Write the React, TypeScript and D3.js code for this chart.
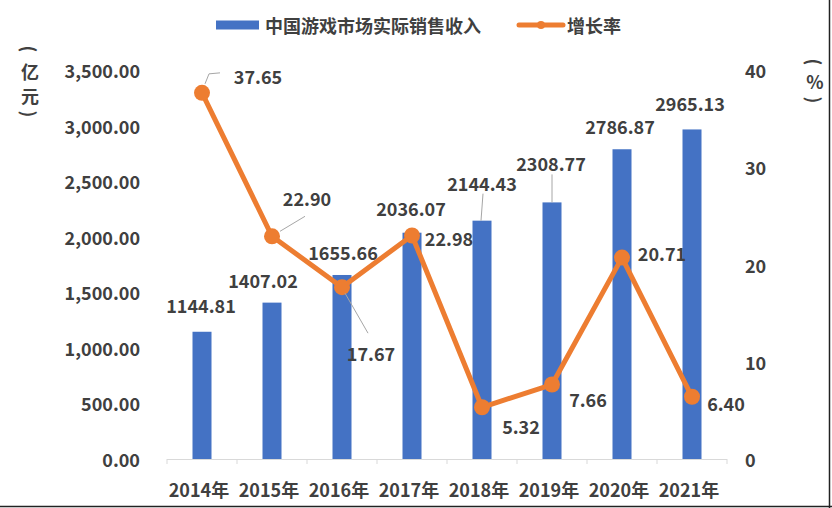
import React from 'react';
import * as d3 from 'd3';

const years = ['2014年', '2015年', '2016年', '2017年', '2018年', '2019年', '2020年', '2021年'];
const revenue = [1144.81, 1407.02, 1655.66, 2036.07, 2144.43, 2308.77, 2786.87, 2965.13];
const growth = [37.65, 22.90, 17.67, 22.98, 5.32, 7.66, 20.71, 6.40];
const leftTicks = [0, 500, 1000, 1500, 2000, 2500, 3000, 3500];
const rightTicks = [0, 10, 20, 30, 40];
const legendBar = '中国游戏市场实际销售收入';
const legendLine = '增长率';
const leftTitle = ['(', '亿', '元', ')'];
const rightTitle = ['(', '%', ')'];

// label placement (px offsets)
const revLabelOff = [[-1, -27], [-9, -23], [1, -23], [-1, -25], [0, -38], [-1, -39], [-2, -23], [-2, -26]];
const revLeader = [false, false, false, false, true, true, false, false];
const grLabelOff = [[56, -17], [35, -38], [29, 66], [37, 2], [39, 19], [36, 14], [40, -5], [34, 6]];

const W = 832, H = 508;
const L = 167, R = 727, B = 459, T = 70;
const BLUE = '#4472C4';
const ORANGE = '#ED7D31';
const TXT = '#404040';
const FONT = '"Noto Sans CJK SC", "Noto Sans", sans-serif';

function VChar({ c, x, y }: { c: string; x: number; y: number }) {
  const paren = c === '(' || c === ')';
  return (
    <text x={x} y={y} fontSize={18} fontWeight={700} fill={TXT} textAnchor="middle" dominantBaseline="central"
      transform={paren ? `rotate(90 ${x} ${y})` : undefined}>{c}</text>
  );
}

export default function App() {
  const x = d3.scaleBand<string>().domain(years).range([L, R]).paddingInner(0).paddingOuter(0);
  const yL = d3.scaleLinear().domain([0, 3500]).range([B, T]);
  const yR = d3.scaleLinear().domain([0, 40]).range([B, T]);
  const cx = (i: number) => (x(years[i]) as number) + x.bandwidth() / 2;
  const barW = 19;
  const line = d3.line<number>().x((_, i) => cx(i)).y((d) => yR(d));
  const bounds = d3.range(years.length + 1).map((i) => L + i * x.bandwidth());

  const fs = 18;
  return (
    <svg width={W} height={H} style={{ position: 'absolute', left: 0, top: 0, background: '#fff' }}
      fontFamily={FONT}>
      <rect x={0} y={0} width={W} height={H} fill="#fff" />
      {/* legend */}
      <rect x={216} y={20.5} width={43} height={9} fill={BLUE} />
      <text x={265} y={25} fontSize={fs} fontWeight={700} fill={TXT} dominantBaseline="central">{legendBar}</text>
      <line x1={519} x2={563} y1={25} y2={25} stroke={ORANGE} strokeWidth={5} strokeLinecap="round" />
      <circle cx={541} cy={25} r={4} fill={ORANGE} />
      <text x={567} y={25} fontSize={fs} fontWeight={700} fill={TXT} dominantBaseline="central">{legendLine}</text>

      {/* axis titles */}
      {leftTitle.map((c, i) => (
        <VChar key={'lt' + i} c={c} x={30} y={[49, 71, 95, 114][i]} />
      ))}
      {rightTitle.map((c, i) => (
        <VChar key={'rt' + i} c={c} x={815} y={[62, 81, 100][i]} />
      ))}

      {/* left ticks */}
      {leftTicks.map((t) => (
        <text key={'l' + t} x={140} y={yL(t)} fontSize={fs} fontWeight={700} fill={TXT}
          textAnchor="end" dominantBaseline="central">{d3.format(',.2f')(t)}</text>
      ))}
      {/* right ticks */}
      {rightTicks.map((t) => (
        <text key={'r' + t} x={745} y={yR(t)} fontSize={fs} fontWeight={700} fill={TXT}
          textAnchor="start" dominantBaseline="central">{t}</text>
      ))}

      {/* bars */}
      {revenue.map((v, i) => (
        <rect key={'b' + i} x={cx(i) - barW / 2} y={yL(v)} width={barW} height={B - yL(v)} fill={BLUE} />
      ))}

      {/* x axis */}
      <line x1={L} x2={R} y1={B + 0.5} y2={B + 0.5} stroke="#d9d9d9" strokeWidth={1} />
      {bounds.map((b, i) => (
        <line key={'tk' + i} x1={b} x2={b} y1={B} y2={B + 5} stroke="#d9d9d9" strokeWidth={1} />
      ))}
      {years.map((yr, i) => (
        <text key={'x' + i} x={cx(i) - 3} y={489} fontSize={fs} fontWeight={700} fill={TXT}
          textAnchor="middle" dominantBaseline="central">{yr}</text>
      ))}

      {/* revenue labels */}
      {revenue.map((v, i) => {
        const lx = cx(i) + revLabelOff[i][0];
        const ly = yL(v) + revLabelOff[i][1];
        return (
          <g key={'rl' + i}>
            {revLeader[i] && (
              <line x1={cx(i) + (i === 4 ? 1 : 0)} y1={ly + 11} x2={cx(i) - (i === 4 ? 1 : 0)} y2={yL(v)}
                stroke="#a6a6a6" strokeWidth={1} />
            )}
            <text x={lx} y={ly} fontSize={fs} fontWeight={700} fill={TXT}
              textAnchor="middle" dominantBaseline="central">{v.toFixed(2)}</text>
          </g>
        );
      })}

      {/* growth line */}
      <path d={line(growth) as string} fill="none" stroke={ORANGE} strokeWidth={5} strokeLinejoin="round" />
      {growth.map((g, i) => (
        <circle key={'c' + i} cx={cx(i)} cy={yR(g)} r={8} fill={ORANGE} />
      ))}

      {/* growth leaders */}
      <polyline points={`${cx(0) + 3},${yR(growth[0]) - 9} ${cx(0) + 7},${yR(growth[0]) - 19} ${cx(0) + 18},${yR(growth[0]) - 20}`}
        fill="none" stroke="#a6a6a6" strokeWidth={1} />
      <line x1={cx(1) + 8} y1={yR(growth[1]) - 5} x2={cx(1) + 33} y2={yR(growth[1]) - 20} stroke="#a6a6a6" strokeWidth={1} />
      <line x1={cx(2) + 3} y1={yR(growth[2]) + 6} x2={cx(2) + 26} y2={yR(growth[2]) + 46} stroke="#a6a6a6" strokeWidth={1} />

      {/* growth labels */}
      {growth.map((g, i) => (
        <text key={'gl' + i} x={cx(i) + grLabelOff[i][0]} y={yR(g) + grLabelOff[i][1]} fontSize={fs} fontWeight={700}
          fill={TXT} textAnchor="middle" dominantBaseline="central">{g.toFixed(2)}</text>
      ))}

      {/* frame edges */}
      <line x1={829.5} x2={829.5} y1={0} y2={H} stroke="#222" strokeWidth={1.5} />
      <line x1={0} x2={W} y1={506.5} y2={506.5} stroke="#222" strokeWidth={1.5} />
    </svg>
  );
}
